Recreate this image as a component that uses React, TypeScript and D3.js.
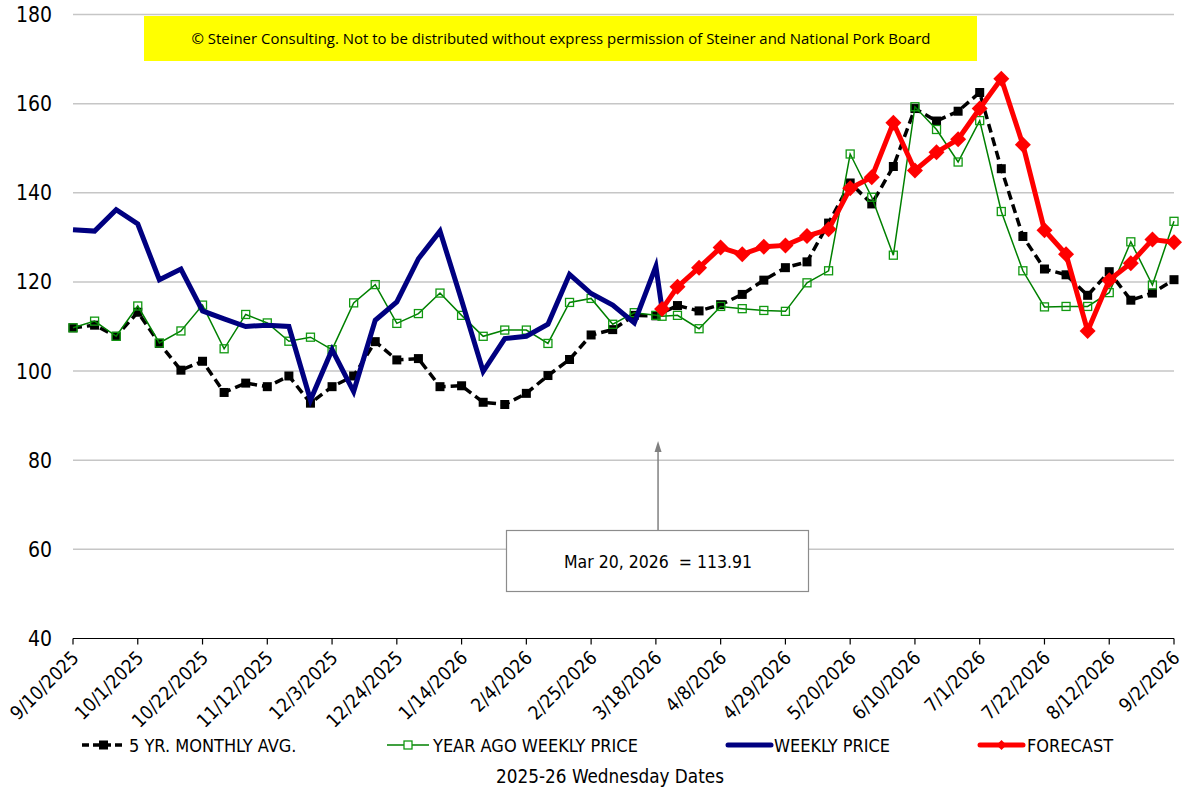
import React from "react";
import * as d3 from "d3";

const weekDates = [
  "2025-09-10","2025-09-17","2025-09-24","2025-10-01","2025-10-08","2025-10-15","2025-10-22","2025-10-29",
  "2025-11-05","2025-11-12","2025-11-19","2025-11-26","2025-12-03","2025-12-10","2025-12-17","2025-12-24","2025-12-31",
  "2026-01-07","2026-01-14","2026-01-21","2026-01-28","2026-02-04","2026-02-11","2026-02-18","2026-02-25",
  "2026-03-04","2026-03-11","2026-03-18","2026-03-25","2026-04-01","2026-04-08","2026-04-15","2026-04-22","2026-04-29",
  "2026-05-06","2026-05-13","2026-05-20","2026-05-27","2026-06-03","2026-06-10","2026-06-17","2026-06-24",
  "2026-07-01","2026-07-08","2026-07-15","2026-07-22","2026-07-29","2026-08-05","2026-08-12","2026-08-19","2026-08-26",
  "2026-09-02",
];

const markerDate = "2026-03-20";

const tickLabels = [
  "9/10/2025","10/1/2025","10/22/2025","11/12/2025","12/3/2025","12/24/2025","1/14/2026","2/4/2026","2/25/2026",
  "3/18/2026","4/8/2026","4/29/2026","5/20/2026","6/10/2026","7/1/2026","7/22/2026","8/12/2026","9/2/2026",
];
const tickDates = [
  "2025-09-10","2025-10-01","2025-10-22","2025-11-12","2025-12-03","2025-12-24","2026-01-14","2026-02-04","2026-02-25",
  "2026-03-18","2026-04-08","2026-04-29","2026-05-20","2026-06-10","2026-07-01","2026-07-22","2026-08-12","2026-09-02",
];

const yTicks = [40, 60, 80, 100, 120, 140, 160, 180];

// 5 YR. MONTHLY AVG. (one per Wednesday)
const fiveYrAvg = [
  109.7,110.3,107.8,113.2,106.2,100.2,102.2,95.2,97.3,96.5,
  98.9,92.8,96.5,98.9,106.6,102.5,102.8,96.5,96.7,93.0,
  92.5,95.0,99.0,102.6,108.1,109.3,112.5,112.4,114.7,113.5,
  114.9,117.2,120.4,123.2,124.5,133.2,142.2,137.5,145.9,158.9,
  156.1,158.3,162.5,145.4,130.2,122.9,121.6,117.0,122.3,115.9,
  117.5,120.5,
];

// YEAR AGO WEEKLY PRICE (one per Wednesday) + value at the marker date
const yearAgo = [
  109.7,111.2,107.8,114.6,106.3,109.0,114.8,105.0,112.7,110.8,
  106.7,107.6,104.8,115.3,119.4,110.7,112.9,117.5,112.5,107.8,
  109.2,109.2,106.2,115.4,116.3,110.5,113.1,112.5,112.5,109.5,
  114.5,114.0,113.6,113.4,119.8,122.5,148.7,139.0,126.0,159.3,
  154.2,146.9,156.2,135.8,122.5,114.4,114.5,114.5,117.6,129.0,
  119.3,133.6,
];
const yearAgoAtMarker = 112.3;

// WEEKLY PRICE (Wednesdays through 3/18/2026) + value at the marker date
const weeklyPrice = [
  131.7,131.4,136.2,133.0,120.5,122.9,113.5,111.7,110.0,110.3,
  110.0,93.5,104.8,95.4,111.4,115.5,125.2,131.4,115.9,99.9,
  107.3,107.8,110.5,121.7,117.4,114.8,110.8,123.5,
];
const weeklyAtMarker = 113.91;

// FORECAST (marker date, then Wednesdays from 3/25/2026)
const forecastAtMarker = 113.91;
const forecast = [
  118.9,123.2,127.7,126.2,127.9,128.2,130.3,131.8,
  141.0,143.5,155.7,145.0,149.1,152.0,158.9,165.6,
  150.8,131.6,126.2,109.0,120.4,124.2,129.5,128.9,
];

const legendNames = ["5 YR. MONTHLY AVG.", "YEAR AGO WEEKLY PRICE", "WEEKLY PRICE", "FORECAST"];

type Pt = { d: Date; v: number };
const parse = d3.utcParse("%Y-%m-%d");

const FONT = "'DejaVu Sans Condensed', 'DejaVu Sans', sans-serif";

export default function App() {
  const W = 1183, H = 794;
  const left = 73, right = 1174, top = 14.5, bottom = 638.5;

  const dates = weekDates.map((s) => parse(s) as Date);
  const mDate = parse(markerDate) as Date;

  const x = d3.scaleUtc().domain([dates[0], dates[dates.length - 1]]).range([left, right]);
  const y = d3.scaleLinear().domain([40, 180]).range([bottom, top]);

  const avgPts: Pt[] = fiveYrAvg.map((v, i) => ({ d: dates[i], v }));
  const yaPts: Pt[] = [];
  yearAgo.forEach((v, i) => {
    yaPts.push({ d: dates[i], v });
    if (weekDates[i] === "2026-03-18") yaPts.push({ d: mDate, v: yearAgoAtMarker });
  });
  const wkPts: Pt[] = weeklyPrice.map((v, i) => ({ d: dates[i], v }));
  wkPts.push({ d: mDate, v: weeklyAtMarker });
  const fcStart = weekDates.indexOf("2026-03-25");
  const fcPts: Pt[] = [{ d: mDate, v: forecastAtMarker }, ...forecast.map((v, i) => ({ d: dates[fcStart + i], v }))];

  const line = d3.line<Pt>().x((p) => x(p.d)).y((p) => y(p.v));

  const diamond = (cx: number, cy: number, r: number) =>
    `M${cx},${cy - r}L${cx + r},${cy}L${cx},${cy + r}L${cx - r},${cy}Z`;

  const legendY = 745;
  const legendItems = [
    { x0: 82, x1: 125, tx: 129 },
    { x0: 387, x1: 429, tx: 433 },
    { x0: 728, x1: 771, tx: 774 },
    { x0: 980, x1: 1023, tx: 1027 },
  ];

  const mx = x(mDate);

  return (
    <svg width={W} height={H} style={{ position: "absolute", left: 0, top: 0, background: "#fff" }} fontFamily={FONT}>
      <rect x={0} y={0} width={W} height={H} fill="#fff" />
      {/* gridlines */}
      {yTicks.filter((t) => t > 40).map((t) => (
        <line key={t} x1={left} x2={right} y1={y(t)} y2={y(t)} stroke="#c6c6c6" strokeWidth={1.5} />
      ))}
      {/* y labels */}
      {yTicks.map((t) => (
        <text key={t} x={52} y={y(t) + 7.5} textAnchor="end" fontSize={21} fill="#000">{t}</text>
      ))}
      {/* x axis */}
      <line x1={left} x2={right} y1={bottom} y2={bottom} stroke="#000" strokeWidth={1.2} />
      {tickDates.map((s, i) => {
        const tx = x(parse(s) as Date);
        return (
          <g key={s}>
            <line x1={tx} x2={tx} y1={bottom} y2={bottom + 6} stroke="#000" strokeWidth={1.2} />
            <text transform={`translate(${tx + 7},${659}) rotate(-45)`} textAnchor="end" fontSize={19} fill="#000">
              {tickLabels[i]}
            </text>
          </g>
        );
      })}

      {/* copyright box */}
      <rect x={144} y={16} width={833} height={45} fill="#ffff00" />
      <text x={561} y={44} textAnchor="middle" fontSize={15} fill="#000"
        fontFamily="'Liberation Sans Narrow', 'Open Sans', sans-serif" textLength={739} lengthAdjust="spacingAndGlyphs">
        © Steiner Consulting.  Not to be distributed without express permission of Steiner and National Pork Board
      </text>

      {/* annotation */}
      <line x1={mx - 4} x2={mx - 4} y1={530} y2={450} stroke="#808080" strokeWidth={1.5} />
      <path d={`M${mx - 4},441L${mx - 7.5},452L${mx - 0.5},452Z`} fill="#808080" />
      <rect x={506.5} y={530.5} width={302} height={61} fill="#fff" stroke="#8c8c8c" strokeWidth={1.2} />
      <text x={658} y={568} textAnchor="middle" fontSize={17.5} fill="#000" style={{ whiteSpace: "pre" }}>
        {"Mar 20, 2026  = 113.91"}
      </text>

      {/* 5 yr avg */}
      <path d={line(avgPts) || ""} fill="none" stroke="#000" strokeWidth={3.5} strokeDasharray="9,5" />
      {avgPts.map((p, i) => (
        <rect key={i} x={x(p.d) - 4.5} y={y(p.v) - 4.5} width={9} height={9} fill="#000" />
      ))}
      {/* year ago */}
      <path d={line(yaPts) || ""} fill="none" stroke="#008000" strokeWidth={1.5} />
      {yaPts.map((p, i) => (
        <rect key={i} x={x(p.d) - 4} y={y(p.v) - 4} width={8} height={8} fill="none" stroke="#119911" strokeWidth={1.3} />
      ))}
      {/* weekly price */}
      <path d={line(wkPts) || ""} fill="none" stroke="#000080" strokeWidth={5} strokeLinejoin="miter" />
      {/* forecast */}
      <path d={line(fcPts) || ""} fill="none" stroke="#ff0000" strokeWidth={5} />
      {fcPts.map((p, i) => (
        <path key={i} d={diamond(x(p.d), y(p.v), 8)} fill="#ff0000" />
      ))}

      {/* legend */}
      <g>
        <line x1={legendItems[0].x0} x2={legendItems[0].x1} y1={legendY} y2={legendY} stroke="#000" strokeWidth={3.5} strokeDasharray="7,4" />
        <rect x={(legendItems[0].x0 + legendItems[0].x1) / 2 - 4.5} y={legendY - 4.5} width={9} height={9} fill="#000" />
        <line x1={legendItems[1].x0} x2={legendItems[1].x1} y1={legendY} y2={legendY} stroke="#008000" strokeWidth={1.5} />
        <rect x={(legendItems[1].x0 + legendItems[1].x1) / 2 - 4} y={legendY - 4} width={8} height={8} fill="#fff" stroke="#119911" strokeWidth={1.3} />
        <line x1={legendItems[2].x0} x2={legendItems[2].x1} y1={legendY} y2={legendY} stroke="#000080" strokeWidth={5} strokeLinecap="round" />
        <line x1={legendItems[3].x0} x2={legendItems[3].x1} y1={legendY} y2={legendY} stroke="#ff0000" strokeWidth={5} strokeLinecap="round" />
        <path d={diamond((legendItems[3].x0 + legendItems[3].x1) / 2, legendY, 5)} fill="#ff0000" />
        {legendItems.map((it, i) => (
          <text key={i} x={it.tx} y={legendY + 7} fontSize={18} fill="#000">{legendNames[i]}</text>
        ))}
      </g>
      <text x={610} y={783} textAnchor="middle" fontSize={18.75} fill="#000">2025-26 Wednesday Dates</text>
    </svg>
  );
}
